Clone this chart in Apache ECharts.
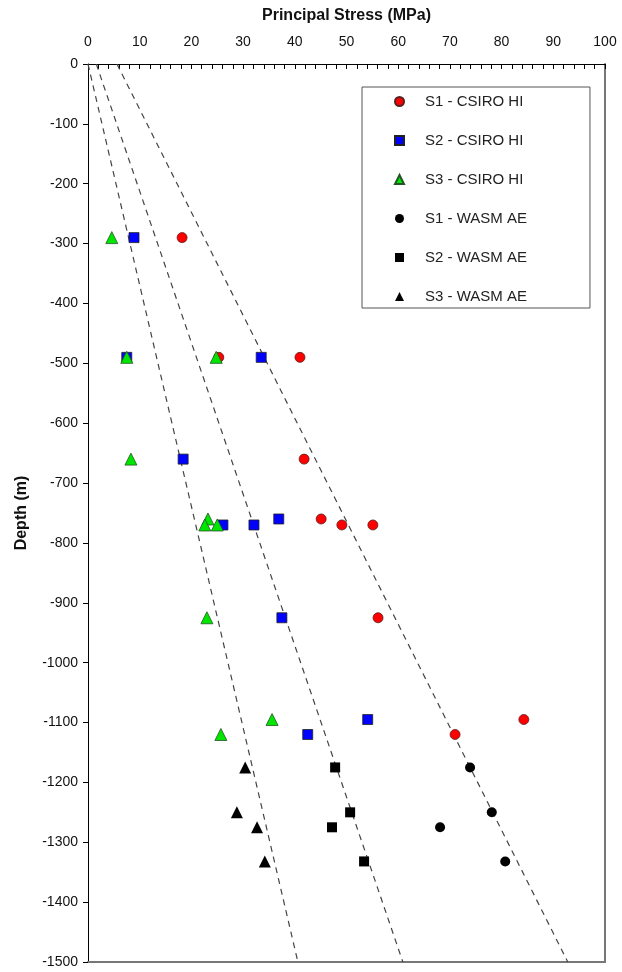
<!DOCTYPE html>
<html>
<head>
<meta charset="utf-8">
<style>
  html, body { margin: 0; padding: 0; background: #fff; }
  #chart { width: 622px; height: 972px; }
</style>
<script src="https://cdn.jsdelivr.net/npm/echarts@6/dist/echarts.min.js"></script>
</head>
<body>
<div id="chart"></div>
<script>
// [stress MPa, depth m]
const s1Csiro = [[18.2, -290], [25.3, -490], [41.0, -490], [41.8, -660], [45.1, -760], [49.1, -770], [55.1, -770], [56.1, -925], [84.3, -1095], [71.0, -1120]];
const s2Csiro = [[8.9, -290], [7.5, -490], [33.5, -490], [18.4, -660], [36.9, -760], [26.1, -770], [32.1, -770], [37.5, -925], [54.1, -1095], [42.5, -1120]];
const s3Csiro = [[4.6, -290], [7.5, -490], [24.8, -490], [8.3, -660], [23.2, -760], [22.6, -770], [25.0, -770], [23.0, -925], [35.6, -1095], [25.7, -1120]];
const s1Wasm = [[73.9, -1175], [78.1, -1250], [68.1, -1275], [80.7, -1332]];
const s2Wasm = [[47.8, -1175], [50.7, -1250], [47.2, -1275], [53.4, -1332]];
const s3Wasm = [[30.4, -1175], [28.8, -1250], [32.7, -1275], [34.2, -1332]];
// dashed trend lines (end points)
const trendLines = [
  [[0, 0], [40.6, -1500]],
  [[1.6, 0], [60.9, -1500]],
  [[5.6, 0], [92.8, -1500]]
];
const legendNames = ['S1 - CSIRO HI', 'S2 - CSIRO HI', 'S3 - CSIRO HI', 'S1 - WASM AE', 'S2 - WASM AE', 'S3 - WASM AE'];

const chart = echarts.init(document.getElementById('chart'));
const font = 'Liberation Sans, Arial, sans-serif';

function pts(name, data, symbol, size, color, border) {
  return {
    name: name,
    type: 'scatter',
    data: data,
    symbol: symbol,
    symbolSize: size,
    itemStyle: { color: color, borderColor: border, borderWidth: border ? 0.8 : 0, opacity: 1 },
    emphasis: { disabled: true },
    z: 3
  };
}

const series = trendLines.map(l => ({
  type: 'line',
  data: l,
  symbol: 'none',
  silent: true,
  lineStyle: { color: '#444', width: 1.2, type: [6, 5] },
  z: 2
}));
series.push(
  pts(legendNames[0], s1Csiro, 'circle', 10, '#ff0000', '#552222'),
  pts(legendNames[1], s2Csiro, 'rect', 10, '#0000ff', '#222'),
  pts(legendNames[2], s3Csiro, 'triangle', 12, '#00e600', '#225522'),
  pts(legendNames[3], s1Wasm, 'circle', 10, '#000', null),
  pts(legendNames[4], s2Wasm, 'rect', 10, '#000', null),
  pts(legendNames[5], s3Wasm, 'triangle', 12, '#000', null)
);

chart.setOption({
  animation: false,
  backgroundColor: '#fff',
  grid: { left: 88, top: 64, right: 17, bottom: 10, containLabel: false },
  legend: {
    data: legendNames,
    orient: 'vertical',
    left: 362,
    top: 87,
    padding: [7, 63, 4, 32],
    itemWidth: 9,
    itemHeight: 9,
    itemGap: 24,
    borderColor: '#555',
    borderWidth: 1,
    backgroundColor: '#fff',
    textStyle: { fontFamily: font, fontSize: 15, color: '#222', padding: [0, 0, 0, 16] }
  },
  xAxis: [{
    type: 'value',
    position: 'top',
    min: 0,
    max: 100,
    interval: 10,
    name: 'Principal Stress (MPa)',
    nameLocation: 'middle',
    nameGap: 40,
    nameTextStyle: { fontFamily: font, fontSize: 16, fontWeight: 'bold', color: '#111' },
    axisLine: { show: true, lineStyle: { color: '#000', width: 1 } },
    axisTick: { show: true, inside: true, length: 5, lineStyle: { color: '#000' } },
    minorTick: { show: true, splitNumber: 5, length: 5, lineStyle: { color: '#000' } },
    axisLabel: { fontFamily: font, fontSize: 14, color: '#111', margin: 15 },
    splitLine: { show: false }
  }, {
    type: 'value',
    position: 'bottom',
    min: 0,
    max: 100,
    axisLine: { show: true, onZero: false, lineStyle: { color: '#777', width: 2 } },
    axisTick: { show: false },
    axisLabel: { show: false },
    splitLine: { show: false }
  }],
  yAxis: [{
    type: 'value',
    min: -1500,
    max: 0,
    interval: 100,
    name: 'Depth (m)',
    nameLocation: 'middle',
    nameGap: 58,
    nameTextStyle: { fontFamily: font, fontSize: 16, fontWeight: 'bold', color: '#111' },
    axisLine: { show: true, onZero: false, lineStyle: { color: '#000', width: 1 } },
    axisTick: { show: true, length: 5, lineStyle: { color: '#000' } },
    axisLabel: { fontFamily: font, fontSize: 14, color: '#111', margin: 10, formatter: v => String(v) },
    splitLine: { show: false }
  }, {
    type: 'value',
    position: 'right',
    min: -1500,
    max: 0,
    axisLine: { show: true, onZero: false, lineStyle: { color: '#777', width: 2 } },
    axisTick: { show: false },
    axisLabel: { show: false },
    splitLine: { show: false }
  }],
  series: series
});
</script>
</body>
</html>
